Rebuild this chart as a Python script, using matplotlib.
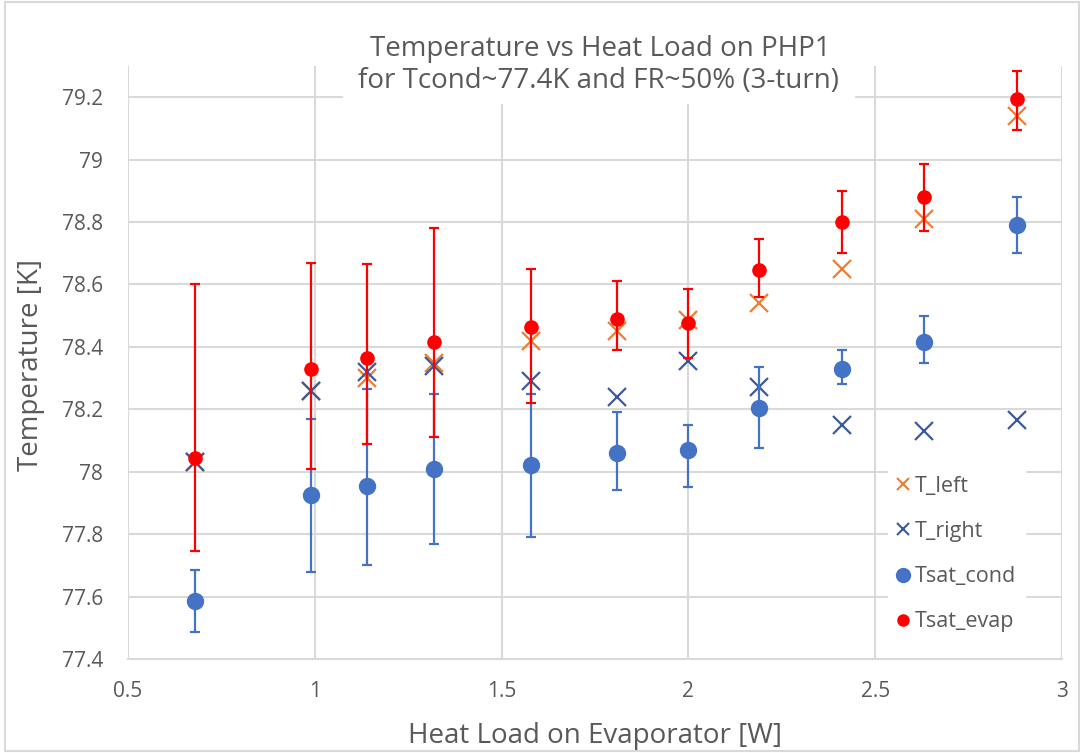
import matplotlib.pyplot as plt
from matplotlib.lines import Line2D
from matplotlib.patches import Rectangle

heat_load = [0.68, 0.99, 1.14, 1.32, 1.58, 1.81, 2.00, 2.19, 2.41, 2.63, 2.88]

t_left = [78.03, 78.26, 78.30, 78.35, 78.42, 78.45, 78.485, 78.54, 78.65, 78.81, 79.14]
t_right = [78.03, 78.26, 78.32, 78.34, 78.29, 78.24, 78.355, 78.27, 78.15, 78.13, 78.165]

tsat_cond = [77.585, 77.925, 77.955, 78.01, 78.02, 78.06, 78.07, 78.205, 78.33, 78.415, 78.79]
cond_err_lo = [0.10, 0.245, 0.255, 0.24, 0.23, 0.12, 0.12, 0.13, 0.05, 0.065, 0.09]
cond_err_hi = [0.10, 0.245, 0.31, 0.24, 0.23, 0.13, 0.08, 0.13, 0.06, 0.085, 0.09]

tsat_evap = [78.045, 78.33, 78.365, 78.415, 78.465, 78.49, 78.475, 78.645, 78.80, 78.88, 79.195]
evap_err_lo = [0.30, 0.32, 0.275, 0.305, 0.245, 0.10, 0.11, 0.085, 0.10, 0.11, 0.10]
evap_err_hi = [0.555, 0.34, 0.30, 0.365, 0.185, 0.12, 0.11, 0.10, 0.10, 0.105, 0.09]

xticks = [0.5, 1, 1.5, 2, 2.5, 3]
xtick_labels = ["0.5", "1", "1.5", "2", "2.5", "3"]
yticks = [77.4, 77.6, 77.8, 78, 78.2, 78.4, 78.6, 78.8, 79, 79.2]
ytick_labels = ["77.4", "77.6", "77.8", "78", "78.2", "78.4", "78.6", "78.8", "79", "79.2"]

plt.rcParams["font.family"] = ["Open Sans", "DejaVu Sans"]
text_col = "#595959"
grid_col = "#D9D9D9"
c_left, c_right, c_cond, c_evap = "#ED7D31", "#3C5A9A", "#4472C4", "#FF0000"

W, H = 1084, 753
fig = plt.figure(figsize=(W / 100, H / 100), dpi=100)
ax = fig.add_axes([128 / W, 1 - 659 / H, (1062 - 128) / W, (659 - 66) / H])

ax.plot(heat_load, t_left, "x", color=c_left, ms=12.5, mew=1.6, zorder=3)
ax.plot(heat_load, t_right, "x", color=c_right, ms=12.5, mew=1.6, zorder=3)
ax.errorbar(heat_load, tsat_cond, yerr=[cond_err_lo, cond_err_hi], fmt="o", color=c_cond,
            ms=11.5, ecolor=c_cond, elinewidth=1.6, capsize=3.6, capthick=1.6, zorder=4)
ax.errorbar(heat_load, tsat_evap, yerr=[evap_err_lo, evap_err_hi], fmt="o", color=c_evap,
            ms=9.5, ecolor=c_evap, elinewidth=1.6, capsize=3.6, capthick=1.6, zorder=5)

ax.set_xlim(0.5, 3)
ax.set_ylim(77.4, 79.3)
ax.set_xticks(xticks, xtick_labels)
ax.set_yticks(yticks, ytick_labels)
ax.tick_params(length=0, labelsize=15, labelcolor=text_col)
ax.tick_params(axis="y", pad=18)
ax.tick_params(axis="x", pad=16)
ax.grid(True, color=grid_col, lw=1.5)
ax.set_axisbelow(True)
for side in ["top", "left", "right"]:
    ax.spines[side].set_visible(False)
ax.spines["bottom"].set_color(grid_col)
ax.spines["bottom"].set_linewidth(1.5)

# legend with marker-only handles, like Excel
handles = [
    Line2D([], [], ls="none", marker="x", color=c_left, ms=9, mew=1.5),
    Line2D([], [], ls="none", marker="x", color=c_right, ms=9, mew=1.5),
    Line2D([], [], ls="none", marker="o", color=c_cond, ms=10),
    Line2D([], [], ls="none", marker="o", color=c_evap, ms=8),
]
labels = ["T_left", "T_right", "Tsat_cond", "Tsat_evap"]
leg = ax.legend(handles, labels, loc="center left", bbox_to_anchor=(888 / W, 1 - 554 / H),
                bbox_transform=fig.transFigure, frameon=True, fancybox=False, fontsize=15.5,
                labelcolor=text_col, handlelength=0.6, handletextpad=0.25, labelspacing=1.12,
                borderpad=0.4, borderaxespad=0)
leg.get_frame().set_edgecolor("white")
leg.get_frame().set_facecolor("white")
leg.get_frame().set_alpha(1)

# title box hides the top gridlines behind it
fig.patches.append(Rectangle((343 / W, 1 - 104 / H), (855 - 343) / W, 44 / H,
                             transform=fig.transFigure, facecolor="white", edgecolor="none",
                             zorder=2))
fig.text(600 / W, 1 - 56 / H, "Temperature vs Heat Load on PHP1", ha="center", va="baseline",
         fontsize=20, color=text_col, zorder=3)
fig.text(598 / W, 1 - 88 / H, "for Tcond~77.4K and FR~50% (3-turn)", ha="center", va="baseline",
         fontsize=20, color=text_col, zorder=3)
fig.text(595 / W, 1 - 736 / H, "Heat Load on Evaporator [W]", ha="center", va="center",
         fontsize=20, color=text_col)
fig.text(31 / W, 1 - 365 / H, "Temperature [K]", ha="center", va="center", rotation=90,
         fontsize=20, color=text_col)

fig.patches.append(Rectangle((5 / W, 2 / H), 1 - 10 / W, 1 - 4 / H, transform=fig.transFigure,
                             fill=False, edgecolor=grid_col, lw=1.5))

fig.savefig("out.png", dpi=100)
